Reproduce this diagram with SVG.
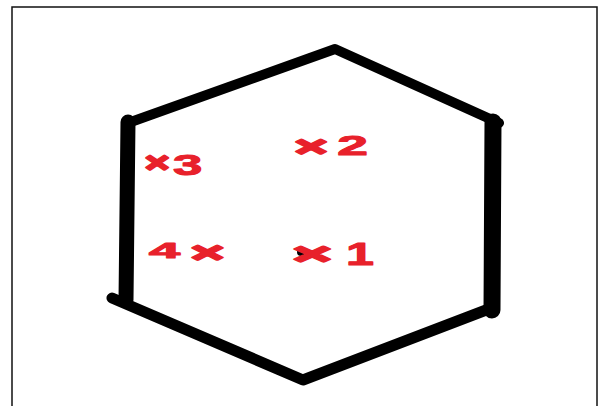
<svg xmlns="http://www.w3.org/2000/svg" width="598" height="406" viewBox="0 0 598 406">
<style>
.edge{stroke:#000;fill:none;stroke-linecap:round;stroke-linejoin:round}
.lbl{font-family:"Liberation Sans",Arial,sans-serif;font-weight:bold;fill:#e8212b;stroke:#e8212b;stroke-width:1;stroke-linejoin:round}
.mk{stroke-width:2.2}
</style>
<rect x="0" y="0" width="598" height="406" fill="#fff"/>
<rect id="frame" x="12" y="7" width="585" height="410" fill="none" stroke="#111" stroke-width="1.5"/>
<g id="hexagon">
  <path class="edge" d="M128,123 L335,49 L499,123" stroke-width="10"/>
  <line class="edge" x1="128" y1="122" x2="126" y2="300" stroke-width="15" stroke-linecap="butt"/>
  <line class="edge" x1="493" y1="122" x2="492" y2="310" stroke-width="17" stroke-linecap="butt"/>
  <path class="edge" d="M112,298 L303,380 L494,307" stroke-width="11"/>
</g>
<circle cx="301" cy="252" r="4" fill="#000"/>
<g id="label-1">
  <text class="lbl mk" x="292.7" y="263.5" font-size="30" textLength="38.9" lengthAdjust="spacingAndGlyphs">×</text>
  <text class="lbl" x="346" y="265" font-size="31" textLength="28" lengthAdjust="spacingAndGlyphs">1</text>
</g>
<g id="label-2">
  <text class="lbl mk" x="294.7" y="155.5" font-size="28" textLength="32.7" lengthAdjust="spacingAndGlyphs">×</text>
  <text class="lbl" x="337.3" y="155" font-size="28" textLength="30.7" lengthAdjust="spacingAndGlyphs">2</text>
</g>
<g id="label-3">
  <text class="lbl mk" x="145" y="172" font-size="28" textLength="24.4" lengthAdjust="spacingAndGlyphs">×</text>
  <text class="lbl" x="173" y="175" font-size="29" textLength="29.3" lengthAdjust="spacingAndGlyphs">3</text>
</g>
<g id="label-4">
  <text class="lbl" x="149" y="258" font-size="22" textLength="31" lengthAdjust="spacingAndGlyphs">4</text>
  <text class="lbl mk" x="191" y="262" font-size="28" textLength="33" lengthAdjust="spacingAndGlyphs">×</text>
</g>
</svg>
